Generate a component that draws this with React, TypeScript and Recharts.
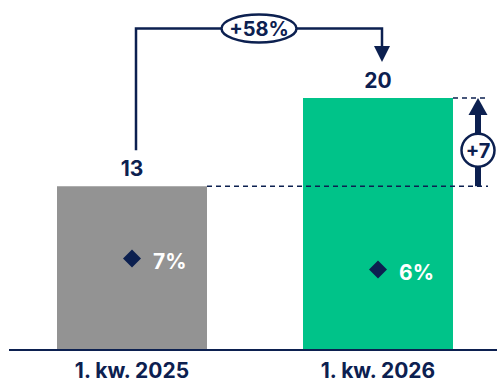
import {
  Bar,
  Cell,
  ComposedChart,
  LabelList,
  Line,
  ReferenceLine,
  XAxis,
  YAxis,
} from "recharts";

const quarters = ["1. kw. 2025", "1. kw. 2026"];
const volumes = [13, 20];
const shares = [7, 6];
const barColors = ["#939393", "#00c389"];
const growthLabel = "+58%";

const NAVY = "#0c2050";
const FONT = "Inter, 'Noto Sans', sans-serif";
const BAR_SIZE = 150;

const data = quarters.map((quarter, i) => ({
  quarter,
  volume: volumes[i],
  share: shares[i],
}));

// diamond marker with the share printed to its right
const renderShare = (props: any) => {
  const { cx, cy, payload, index } = props;
  if (cx == null || cy == null) return <g key={`s-${index}`} />;
  const r = 9;
  return (
    <g key={`s-${index}`}>
      <polygon
        points={`${cx},${cy - r} ${cx + r},${cy} ${cx},${cy + r} ${cx - r},${cy}`}
        fill={NAVY}
      />
      <text
        x={cx + 21}
        y={cy + 10.5}
        fill="#ffffff"
        fontSize={21}
        fontWeight={700}
        fontFamily={FONT}
      >
        {`${payload.share}%`}
      </text>
    </g>
  );
};

// bracket arrow between the bar tops and the "+N" step on the right
const renderAnnotations = (props: any) => {
  const { x1, y1, x2, y2 } = props;
  const half = BAR_SIZE / 2;
  const leftX = x1 + 4;
  const rightX = x2 + 4;
  const topY = 28.5;
  const startY = y1 - 36;
  const tipY = y2 - 36;
  const guideEnd = x2 + half + 35;
  const stepX = x2 + half + 25;
  const diff = volumes[1] - volumes[0];
  const midX = (leftX + rightX) / 2;

  return (
    <g>
      <path
        d={`M${leftX},${startY} V${topY} H${rightX} V${tipY - 15}`}
        fill="none"
        stroke={NAVY}
        strokeWidth={2.5}
      />
      <polygon
        points={`${rightX - 8},${tipY - 16} ${rightX + 8},${tipY - 16} ${rightX},${tipY}`}
        fill={NAVY}
      />
      <ellipse
        cx={midX}
        cy={topY}
        rx={37.5}
        ry={14}
        fill="#ffffff"
        stroke={NAVY}
        strokeWidth={2.5}
      />
      <text
        x={midX}
        y={topY + 7.5}
        textAnchor="middle"
        fill={NAVY}
        fontSize={20}
        fontWeight={700}
        fontFamily={FONT}
      >
        {growthLabel}
      </text>

      <line
        x1={x1 + half}
        y1={y1}
        x2={guideEnd}
        y2={y1}
        stroke={NAVY}
        strokeWidth={1.5}
        strokeDasharray="5 4"
      />
      <line
        x1={x2 + half}
        y1={y2}
        x2={guideEnd}
        y2={y2}
        stroke={NAVY}
        strokeWidth={1.5}
        strokeDasharray="5 4"
      />
      <line
        x1={stepX}
        y1={y1}
        x2={stepX}
        y2={y2 + 16}
        stroke={NAVY}
        strokeWidth={6}
      />
      <polygon
        points={`${stepX - 9.5},${y2 + 17} ${stepX + 9.5},${y2 + 17} ${stepX},${y2}`}
        fill={NAVY}
      />
      <circle
        cx={stepX}
        cy={y1 - 36}
        r={16.5}
        fill="#ffffff"
        stroke={NAVY}
        strokeWidth={2.5}
      />
      <text
        x={stepX}
        y={y1 - 36 + 7.5}
        textAnchor="middle"
        fill={NAVY}
        fontSize={20}
        fontWeight={700}
        fontFamily={FONT}
      >
        {`+${diff}`}
      </text>
    </g>
  );
};

export default function App() {
  return (
    <div
      style={{
        position: "absolute",
        left: 0,
        top: 0,
        width: 497,
        height: 382,
        background: "#ffffff",
      }}
    >
      <ComposedChart
        width={497}
        height={382}
        data={data}
        margin={{ top: 35, right: 0, bottom: 0, left: 9 }}
      >
        <XAxis
          dataKey="quarter"
          height={32}
          interval={0}
          padding={{ left: 0, right: -4 }}
          axisLine={{ stroke: NAVY, strokeWidth: 2 }}
          tickLine={false}
          tickMargin={7}
          tick={{
            fill: NAVY,
            fontSize: 21,
            fontWeight: 700,
            fontFamily: FONT,
          }}
        />
        <YAxis hide domain={[0, 25]} />
        <YAxis yAxisId="pct" orientation="right" hide domain={[-1.3, 27.3]} />
        <Bar dataKey="volume" barSize={BAR_SIZE} isAnimationActive={false}>
          {data.map((d, i) => (
            <Cell key={d.quarter} fill={barColors[i]} />
          ))}
          <LabelList
            dataKey="volume"
            position="top"
            offset={10}
            fill={NAVY}
            fontSize={21}
            fontWeight={700}
            fontFamily={FONT}
          />
        </Bar>
        <Line
          yAxisId="pct"
          dataKey="share"
          stroke="none"
          dot={renderShare}
          activeDot={false}
          legendType="none"
          isAnimationActive={false}
        />
        <ReferenceLine
          segment={[
            { x: quarters[0], y: volumes[0] },
            { x: quarters[1], y: volumes[1] },
          ]}
          ifOverflow="visible"
          shape={renderAnnotations}
        />
      </ComposedChart>
    </div>
  );
}
